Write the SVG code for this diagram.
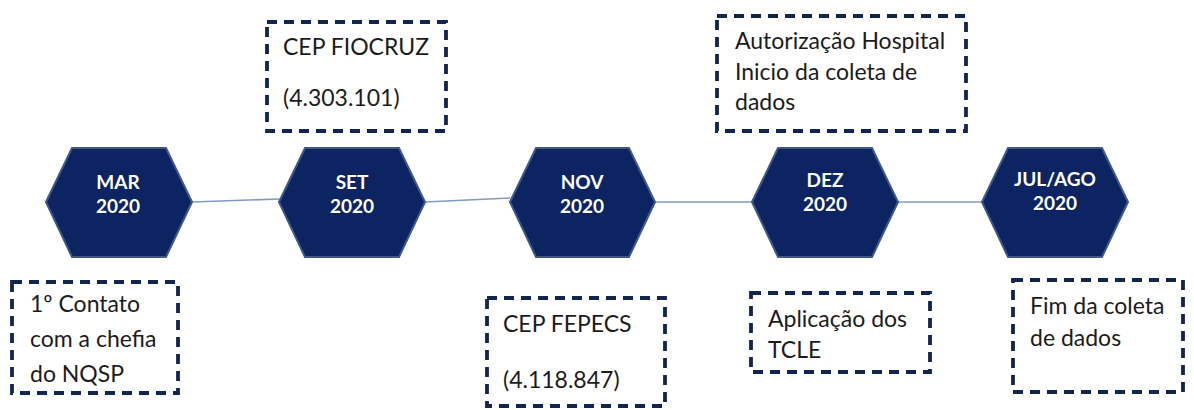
<svg xmlns="http://www.w3.org/2000/svg" width="1194" height="410" viewBox="0 0 1194 410">
  <defs>
    <style>
      .hex { fill: #0c2461; stroke: #3f5886; stroke-width: 2; }
      .hex-label { font-family: Lato, "Open Sans", sans-serif; font-weight: bold; font-size: 19px; fill: #ffffff; text-anchor: middle; }
      .note { fill: #ffffff; stroke: #12254f; stroke-width: 3.8; stroke-dasharray: 10 7; }
      .note-text { font-family: Lato, "Open Sans", sans-serif; font-size: 23px; fill: #1c1c1c; }
      .link { stroke: #7f9bc0; stroke-width: 1.6; fill: none; }
    </style>
  </defs>
  <rect width="1194" height="410" fill="#ffffff"/>

  <!-- timeline connectors -->
  <g id="connectors">
    <line class="link" x1="192" y1="202" x2="279" y2="199"/>
    <line class="link" x1="425" y1="202" x2="510" y2="198"/>
    <line class="link" x1="655" y1="202" x2="752" y2="202"/>
    <line class="link" x1="898" y1="202" x2="982" y2="202"/>
  </g>

  <!-- milestones -->
  <g id="mar-2020">
    <polygon class="hex" points="46,202 72,148 166,148 192,202 166,257 72,257"/>
    <text class="hex-label" x="118" y="189">MAR</text>
    <text class="hex-label" x="118" y="213">2020</text>
  </g>
  <g id="set-2020">
    <polygon class="hex" points="279,202 305,148 399,148 425,202 399,257 305,257"/>
    <text class="hex-label" x="352" y="189">SET</text>
    <text class="hex-label" x="352" y="213">2020</text>
  </g>
  <g id="nov-2020">
    <polygon class="hex" points="510,202 536,148 629,148 655,202 629,257 536,257"/>
    <text class="hex-label" x="582" y="189">NOV</text>
    <text class="hex-label" x="582" y="213">2020</text>
  </g>
  <g id="dez-2020">
    <polygon class="hex" points="752,202 778,148 872,148 898,202 872,257 778,257"/>
    <text class="hex-label" x="825" y="187">DEZ</text>
    <text class="hex-label" x="825" y="211">2020</text>
  </g>
  <g id="julago-2020">
    <polygon class="hex" points="982,202 1008,148 1102,148 1128,202 1102,257 1008,257"/>
    <text class="hex-label" x="1055" y="186">JUL/AGO</text>
    <text class="hex-label" x="1055" y="210">2020</text>
  </g>

  <!-- notes -->
  <g id="note-contato">
    <rect class="note" x="12" y="282" width="166" height="111"/>
    <text class="note-text" x="30" y="312">1º Contato</text>
    <text class="note-text" x="30" y="347">com a chefia</text>
    <text class="note-text" x="30" y="382">do NQSP</text>
  </g>
  <g id="note-fiocruz">
    <rect class="note" x="267" y="22" width="179" height="109"/>
    <text class="note-text" x="283" y="55">CEP FIOCRUZ</text>
    <text class="note-text" x="283" y="106">(4.303.101)</text>
  </g>
  <g id="note-fepecs">
    <rect class="note" x="487" y="298" width="178" height="108"/>
    <text class="note-text" x="503" y="332">CEP FEPECS</text>
    <text class="note-text" x="503" y="388">(4.118.847)</text>
  </g>
  <g id="note-autorizacao">
    <rect class="note" x="717" y="16" width="249" height="115"/>
    <text class="note-text" x="735" y="49">Autorização Hospital</text>
    <text class="note-text" x="735" y="80">Inicio da coleta de</text>
    <text class="note-text" x="735" y="110">dados</text>
  </g>
  <g id="note-tcle">
    <rect class="note" x="751" y="293" width="179" height="79"/>
    <text class="note-text" x="768" y="327">Aplicação dos</text>
    <text class="note-text" x="768" y="358">TCLE</text>
  </g>
  <g id="note-fim">
    <rect class="note" x="1013" y="280" width="170" height="112"/>
    <text class="note-text" x="1030" y="314">Fim da coleta</text>
    <text class="note-text" x="1030" y="346">de dados</text>
  </g>
</svg>
